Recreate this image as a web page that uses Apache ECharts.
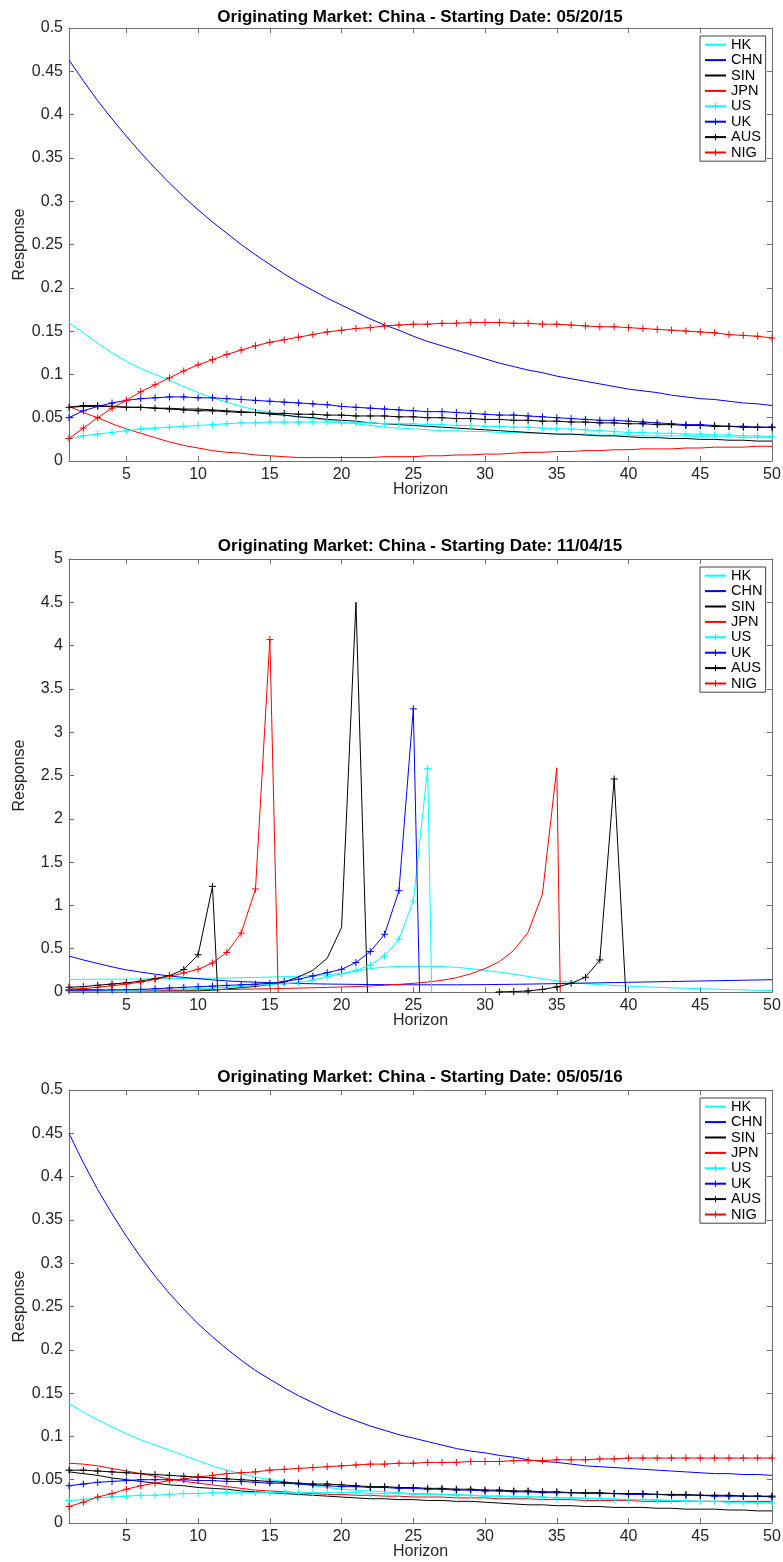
<!DOCTYPE html>
<html>
<head>
<meta charset="utf-8">
<title>Originating Market: China</title>
<script src="https://cdn.jsdelivr.net/npm/echarts@6/dist/echarts.min.js"></script>
<style>
  html, body { margin: 0; padding: 0; background: #fff; }
  #chart { width: 783px; height: 1562px; }
</style>
</head>
<body>
<div id="chart"></div>
<script>
// horizon steps and the tick labels on the x axis
var HORIZON = [1,2,3,4,5,6,7,8,9,10,11,12,13,14,15,16,17,18,19,20,21,22,23,24,25,
  26,27,28,29,30,31,32,33,34,35,36,37,38,39,40,41,42,43,44,45,46,47,48,49,50];
var X_TICKS = [5,10,15,20,25,30,35,40,45,50];
var MARKETS = ['HK','CHN','SIN','JPN','US','UK','AUS','NIG'];

// starting date 05/20/15
var HK_0520 = [0.160,0.148,0.136,0.125,0.115,0.107,0.100,0.093,0.086,0.079,0.073,0.068,0.063,0.059,0.056,0.053,0.051,0.049,0.047,0.045,0.043,0.041,0.039,0.038,0.037,0.036,0.035,0.035,0.034,0.034,0.033,0.033,0.032,0.032,0.031,0.031,0.031,0.030,0.030,0.030,0.029,0.029,0.029,0.029,0.028,0.028,0.028,0.027,0.027,0.027];
var CHN_0520 = [0.463,0.439,0.416,0.395,0.375,0.356,0.338,0.321,0.305,0.290,0.276,0.263,0.250,0.238,0.227,0.216,0.206,0.197,0.188,0.180,0.172,0.164,0.157,0.151,0.144,0.138,0.133,0.128,0.123,0.118,0.113,0.109,0.105,0.102,0.098,0.095,0.092,0.089,0.086,0.083,0.081,0.079,0.076,0.074,0.072,0.071,0.069,0.067,0.066,0.064];
var SIN_0520 = [0.062,0.063,0.063,0.063,0.062,0.062,0.061,0.061,0.060,0.060,0.059,0.058,0.057,0.056,0.054,0.053,0.051,0.050,0.048,0.047,0.046,0.044,0.043,0.042,0.041,0.040,0.039,0.038,0.037,0.036,0.035,0.034,0.033,0.032,0.031,0.031,0.030,0.029,0.029,0.028,0.027,0.027,0.026,0.026,0.025,0.025,0.024,0.024,0.023,0.023];
var JPN_0520 = [0.063,0.056,0.050,0.043,0.037,0.032,0.027,0.022,0.018,0.015,0.012,0.010,0.009,0.007,0.006,0.005,0.004,0.004,0.004,0.004,0.004,0.004,0.005,0.005,0.005,0.006,0.006,0.007,0.007,0.008,0.008,0.009,0.010,0.010,0.011,0.011,0.012,0.012,0.013,0.013,0.014,0.014,0.014,0.015,0.015,0.016,0.016,0.016,0.017,0.017];
var US_0520 = [0.026,0.029,0.031,0.033,0.035,0.037,0.038,0.039,0.040,0.041,0.042,0.043,0.044,0.044,0.045,0.045,0.045,0.045,0.045,0.044,0.044,0.044,0.043,0.043,0.043,0.042,0.042,0.041,0.041,0.040,0.040,0.039,0.039,0.038,0.037,0.037,0.036,0.035,0.034,0.033,0.033,0.032,0.032,0.031,0.031,0.030,0.030,0.029,0.029,0.028];
var UK_0520 = [0.050,0.058,0.063,0.067,0.070,0.072,0.073,0.074,0.074,0.073,0.073,0.072,0.071,0.070,0.069,0.068,0.067,0.066,0.065,0.063,0.062,0.061,0.060,0.059,0.058,0.057,0.057,0.056,0.055,0.054,0.053,0.053,0.052,0.051,0.050,0.049,0.048,0.047,0.047,0.046,0.045,0.044,0.043,0.042,0.042,0.041,0.040,0.040,0.039,0.039];
var AUS_0520 = [0.062,0.064,0.064,0.063,0.062,0.062,0.061,0.060,0.059,0.058,0.058,0.057,0.056,0.056,0.055,0.055,0.054,0.054,0.053,0.053,0.052,0.052,0.052,0.051,0.051,0.050,0.050,0.049,0.049,0.048,0.048,0.047,0.047,0.046,0.046,0.045,0.045,0.044,0.044,0.043,0.043,0.042,0.042,0.041,0.041,0.040,0.040,0.039,0.039,0.039];
var NIG_0520 = [0.026,0.038,0.050,0.061,0.070,0.080,0.088,0.096,0.104,0.111,0.117,0.123,0.128,0.133,0.137,0.140,0.143,0.146,0.149,0.151,0.153,0.154,0.156,0.157,0.158,0.158,0.159,0.159,0.160,0.160,0.160,0.159,0.159,0.158,0.158,0.157,0.156,0.155,0.155,0.154,0.153,0.152,0.151,0.150,0.149,0.148,0.146,0.145,0.144,0.142];

// starting date 11/04/15 (values below zero fall off the axis)
var HK_1104 = [0.145,0.146,0.147,0.148,0.149,0.150,0.152,0.154,0.156,0.158,0.160,0.162,0.165,0.168,0.172,0.177,0.183,0.190,0.200,0.215,0.240,0.270,0.287,0.295,0.297,0.297,0.293,0.285,0.270,0.250,0.230,0.205,0.180,0.155,0.130,0.110,0.095,0.085,0.075,0.067,0.060,0.054,0.048,0.043,0.038,0.033,0.028,0.024,0.020,0.016];
var CHN_1104 = [0.415,0.370,0.330,0.290,0.255,0.230,0.205,0.185,0.168,0.154,0.140,0.128,0.120,0.113,0.107,0.102,0.098,0.095,0.092,0.090,0.088,0.086,0.085,0.084,0.083,0.083,0.083,0.083,0.084,0.085,0.087,0.089,0.091,0.094,0.097,0.100,0.103,0.106,0.109,0.112,0.115,0.118,0.121,0.124,0.127,0.130,0.133,0.136,0.139,0.142];
var SIN_1104 = [0.035,0.028,0.022,0.018,0.015,0.013,0.012,0.012,0.012,0.013,0.020,0.035,0.050,0.065,0.085,0.115,0.175,0.250,0.390,0.745,4.500,-1.100,-0.700,-0.550,-0.480,-0.430,-0.400,-0.380,-0.360,-0.350,-0.340,-0.330,-0.320,-0.320,-0.310,-0.310,-0.300,-0.300,-0.300,-0.290,-0.290,-0.290,-0.280,-0.280,-0.280,-0.280,-0.270,-0.270,-0.270,-0.270];
var JPN_1104 = [0.010,0.010,0.012,0.013,0.015,0.016,0.018,0.020,0.022,0.024,0.026,0.029,0.032,0.035,0.038,0.041,0.045,0.049,0.053,0.058,0.063,0.070,0.078,0.088,0.100,0.115,0.135,0.165,0.210,0.270,0.350,0.480,0.690,1.130,2.590,-8.200,-2.600,-1.500,-1.100,-0.850,-0.700,-0.600,-0.530,-0.480,-0.440,-0.410,-0.380,-0.360,-0.340,-0.330];
var US_1104 = [0.010,0.012,0.014,0.016,0.018,0.021,0.024,0.028,0.033,0.039,0.045,0.055,0.065,0.075,0.085,0.095,0.108,0.139,0.174,0.210,0.250,0.310,0.417,0.610,1.050,2.580,-6.600,-2.300,-1.400,-1.000,-0.800,-0.670,-0.580,-0.510,-0.460,-0.420,-0.390,-0.360,-0.340,-0.320,-0.300,-0.290,-0.280,-0.270,-0.260,-0.250,-0.240,-0.240,-0.230,-0.230];
var UK_1104 = [0.020,0.021,0.022,0.024,0.026,0.030,0.037,0.046,0.054,0.061,0.068,0.076,0.083,0.090,0.100,0.122,0.147,0.185,0.224,0.262,0.340,0.467,0.667,1.170,3.270,-4.200,-1.700,-1.050,-0.780,-0.630,-0.530,-0.460,-0.410,-0.370,-0.340,-0.320,-0.300,-0.280,-0.270,-0.260,-0.250,-0.240,-0.230,-0.230,-0.220,-0.220,-0.210,-0.210,-0.200,-0.200];
var AUS_1104 = [0.055,0.062,0.078,0.092,0.106,0.125,0.155,0.188,0.260,0.430,1.220,-2.100,-1.000,-0.700,-0.550,-0.460,-0.400,-0.350,-0.310,-0.280,-0.250,-0.220,-0.200,-0.180,-0.160,-0.140,-0.120,-0.100,-0.070,-0.040,0.001,0.005,0.012,0.030,0.058,0.100,0.170,0.370,2.460,-0.600,-0.350,-0.260,-0.210,-0.180,-0.160,-0.140,-0.130,-0.120,-0.110,-0.100];
var NIG_1104 = [0.030,0.039,0.055,0.072,0.092,0.115,0.145,0.180,0.220,0.262,0.335,0.457,0.680,1.190,4.070,-2.950,-1.300,-0.850,-0.640,-0.520,-0.440,-0.390,-0.350,-0.320,-0.300,-0.280,-0.260,-0.250,-0.240,-0.230,-0.220,-0.210,-0.210,-0.200,-0.200,-0.190,-0.190,-0.180,-0.180,-0.180,-0.170,-0.170,-0.170,-0.160,-0.160,-0.160,-0.160,-0.150,-0.150,-0.150];

// starting date 05/05/16
var HK_0505 = [0.138,0.128,0.119,0.111,0.103,0.096,0.090,0.084,0.078,0.072,0.066,0.061,0.057,0.053,0.050,0.048,0.045,0.043,0.041,0.039,0.038,0.037,0.036,0.035,0.034,0.034,0.033,0.033,0.032,0.031,0.031,0.031,0.030,0.030,0.029,0.029,0.029,0.028,0.028,0.027,0.027,0.027,0.026,0.026,0.025,0.025,0.025,0.024,0.024,0.024];
var CHN_0505 = [0.450,0.416,0.385,0.357,0.331,0.307,0.285,0.265,0.247,0.230,0.215,0.201,0.188,0.176,0.166,0.156,0.147,0.139,0.131,0.124,0.118,0.112,0.107,0.102,0.098,0.094,0.090,0.086,0.083,0.081,0.078,0.076,0.073,0.071,0.070,0.068,0.066,0.065,0.064,0.063,0.062,0.061,0.060,0.059,0.058,0.057,0.057,0.056,0.056,0.055];
var SIN_0505 = [0.059,0.057,0.055,0.052,0.050,0.048,0.046,0.044,0.043,0.041,0.040,0.039,0.037,0.036,0.035,0.034,0.033,0.032,0.031,0.030,0.029,0.028,0.028,0.027,0.027,0.026,0.026,0.025,0.025,0.024,0.023,0.022,0.021,0.021,0.020,0.020,0.019,0.019,0.018,0.018,0.018,0.017,0.017,0.016,0.016,0.016,0.015,0.015,0.014,0.014];
var JPN_0505 = [0.069,0.068,0.066,0.063,0.060,0.057,0.054,0.051,0.048,0.046,0.044,0.042,0.040,0.038,0.037,0.036,0.035,0.034,0.033,0.033,0.032,0.032,0.031,0.031,0.030,0.030,0.030,0.029,0.029,0.029,0.028,0.028,0.028,0.027,0.027,0.027,0.026,0.026,0.026,0.026,0.025,0.025,0.025,0.025,0.025,0.025,0.025,0.025,0.025,0.025];
var US_0505 = [0.026,0.027,0.029,0.030,0.031,0.032,0.032,0.033,0.034,0.034,0.035,0.035,0.035,0.035,0.035,0.035,0.035,0.035,0.035,0.035,0.035,0.034,0.034,0.034,0.033,0.033,0.033,0.032,0.032,0.031,0.031,0.030,0.030,0.030,0.029,0.029,0.028,0.028,0.027,0.027,0.027,0.026,0.026,0.025,0.025,0.025,0.024,0.024,0.023,0.023];
var UK_0505 = [0.043,0.045,0.047,0.048,0.049,0.050,0.050,0.050,0.050,0.049,0.049,0.048,0.048,0.047,0.046,0.046,0.045,0.044,0.043,0.042,0.042,0.041,0.041,0.040,0.040,0.039,0.039,0.038,0.038,0.037,0.037,0.036,0.036,0.035,0.035,0.035,0.034,0.034,0.034,0.033,0.033,0.033,0.032,0.032,0.032,0.031,0.031,0.031,0.031,0.030];
var AUS_0505 = [0.061,0.061,0.060,0.059,0.058,0.057,0.056,0.055,0.054,0.053,0.052,0.051,0.050,0.049,0.048,0.047,0.046,0.045,0.045,0.044,0.043,0.042,0.042,0.041,0.041,0.040,0.040,0.039,0.039,0.038,0.038,0.037,0.037,0.036,0.036,0.035,0.035,0.035,0.034,0.034,0.034,0.033,0.033,0.033,0.032,0.032,0.032,0.031,0.031,0.031];
var NIG_0505 = [0.019,0.024,0.030,0.034,0.039,0.043,0.046,0.049,0.051,0.053,0.055,0.057,0.058,0.059,0.061,0.062,0.063,0.064,0.065,0.066,0.067,0.068,0.068,0.069,0.069,0.070,0.070,0.070,0.071,0.071,0.071,0.072,0.072,0.072,0.073,0.073,0.073,0.074,0.074,0.075,0.075,0.075,0.075,0.075,0.075,0.075,0.075,0.075,0.075,0.075];

var panels = [
  { title: 'Originating Market: China - Starting Date: 05/20/15', yMax: 0.5, yStep: 0.05,
    values: [HK_0520, CHN_0520, SIN_0520, JPN_0520, US_0520, UK_0520, AUS_0520, NIG_0520] },
  { title: 'Originating Market: China - Starting Date: 11/04/15', yMax: 5, yStep: 0.5,
    values: [HK_1104, CHN_1104, SIN_1104, JPN_1104, US_1104, UK_1104, AUS_1104, NIG_1104] },
  { title: 'Originating Market: China - Starting Date: 05/05/16', yMax: 0.5, yStep: 0.05,
    values: [HK_0505, CHN_0505, SIN_0505, JPN_0505, US_0505, UK_0505, AUS_0505, NIG_0505] }
];

var FONT = '"Liberation Sans", Arial, Helvetica, sans-serif';
var FRAME = '#6e6e6e';
var INK = '#262626';
var PLUS = 'path://M0,5H10M5,0V10';
var COLORS = ['#00ffff', '#0000ff', '#000000', '#ff0000', '#00ffff', '#0000ff', '#000000', '#ff0000'];
var MARKED = [false, false, false, false, true, true, true, true];
var TOPS = [28, 559, 1090];
var TITLE_TOPS = [9, 538, 1069];

var option = {
  animation: false,
  backgroundColor: '#fff',
  title: [], grid: [], xAxis: [], yAxis: [], legend: [], series: []
};

panels.forEach(function (p, i) {
  var top = TOPS[i];
  option.grid.push({ left: 69, top: top, width: 703, height: 433, outerBoundsMode: 'none' });

  option.title.push({
    text: p.title, left: 420, top: TITLE_TOPS[i], textAlign: 'center', padding: 0,
    textStyle: { fontFamily: FONT, fontSize: 17, fontWeight: 'bold', color: '#000' }
  });

  var frameLine = { onZero: false, lineStyle: { color: FRAME, width: 1 } };
  var tick = { inside: true, length: 5, lineStyle: { color: FRAME } };

  option.xAxis.push({
    type: 'value', gridIndex: i, min: 1, max: 50, position: 'bottom',
    name: 'Horizon', nameLocation: 'middle', nameGap: 21, nameMoveOverlap: false,
    nameTextStyle: { fontFamily: FONT, fontSize: 16, color: INK },
    axisLine: frameLine,
    axisTick: Object.assign({ customValues: X_TICKS }, tick),
    axisLabel: { customValues: X_TICKS, margin: 6, fontFamily: FONT, fontSize: 16, color: INK },
    splitLine: { show: false }
  });
  option.xAxis.push({
    type: 'value', gridIndex: i, min: 1, max: 50, position: 'top',
    axisLine: frameLine,
    axisTick: Object.assign({ customValues: X_TICKS }, tick),
    axisLabel: { show: false },
    splitLine: { show: false }
  });

  option.yAxis.push({
    type: 'value', gridIndex: i, min: 0, max: p.yMax, interval: p.yStep, position: 'left',
    name: 'Response', nameLocation: 'middle', nameGap: 41, nameMoveOverlap: false,
    nameTextStyle: { fontFamily: FONT, fontSize: 16, color: INK },
    axisLine: Object.assign({ show: true }, frameLine),
    axisTick: Object.assign({ show: true }, tick),
    axisLabel: { margin: 6, fontFamily: FONT, fontSize: 16, color: INK },
    splitLine: { show: false }
  });
  option.yAxis.push({
    type: 'value', gridIndex: i, min: 0, max: p.yMax, interval: p.yStep, position: 'right',
    axisLine: Object.assign({ show: true }, frameLine),
    axisTick: Object.assign({ show: true }, tick),
    axisLabel: { show: false },
    splitLine: { show: false }
  });

  option.legend.push({
    orient: 'vertical', left: 700, top: top + 8,
    itemWidth: 21, itemHeight: 8, itemGap: 0, padding: [1, 3, 1, 4],
    borderColor: '#404040', borderWidth: 1, backgroundColor: '#fff',
    selectedMode: false,
    itemStyle: { borderWidth: 1 },
    textStyle: { fontFamily: FONT, fontSize: 14.6, color: '#000', lineHeight: 15.4 },
    data: MARKETS.map(function (m, j) {
      return MARKED[j] ? { name: m } : { name: m, itemStyle: { opacity: 0 } };
    })
  });

  MARKETS.forEach(function (m, j) {
    option.series.push({
      type: 'line', name: m,
      xAxisIndex: 2 * i, yAxisIndex: 2 * i,
      data: HORIZON.map(function (h, k) { return [h, p.values[j][k]]; }),
      symbol: MARKED[j] ? PLUS : 'none',
      symbolSize: 7,
      showSymbol: MARKED[j],
      lineStyle: { color: COLORS[j], width: 1 },
      itemStyle: { color: COLORS[j], borderColor: COLORS[j], borderWidth: 1 },
      emphasis: { disabled: true },
      silent: true
    });
  });
});

var chart = echarts.init(document.getElementById('chart'), null, { renderer: 'canvas' });
chart.setOption(option);
</script>
</body>
</html>
